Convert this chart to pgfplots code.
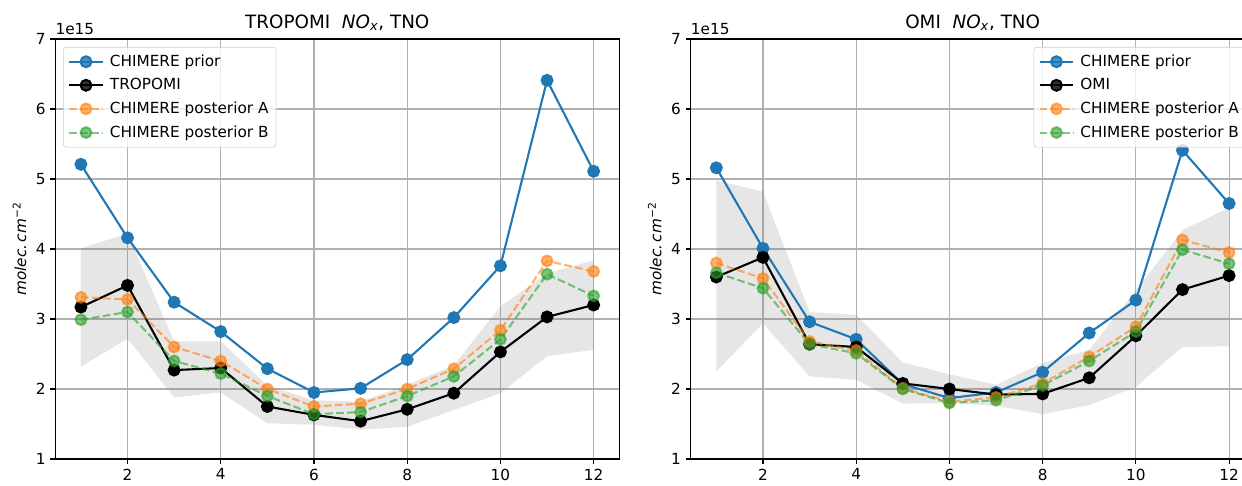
\documentclass[border=0pt]{standalone}
\usepackage{pgfplots}
\pgfplotsset{compat=1.18}
\usepackage{fontspec}
\setmainfont{DejaVu Sans}
\definecolor{tabblue}{HTML}{1F77B4}
\definecolor{taborange}{HTML}{FF7F0E}
\definecolor{tabgreen}{HTML}{2CA02C}
\definecolor{gridgray}{HTML}{B0B0B0}
\definecolor{legedge}{HTML}{CCCCCC}
\pgfplotsset{
  mystyle/.style={
    scale only axis, width=406.1pt, height=302.4pt,
    xmin=0.45, xmax=12.55, ymin=1, ymax=7,
    xtick={2,4,...,12}, ytick={1,...,7},
    grid=major, major grid style={gridgray, line width=0.8pt},
    tick align=outside, major tick length=3.5pt,
    tick style={black, line width=0.8pt},
    xtick pos=left, ytick pos=left,
    axis line style={line width=0.8pt},
    /pgf/number format/assume math mode=true,
    tick label style={font=\fontsize{11}{13}\selectfont},
    title style={font=\fontsize{13.2}{15}\selectfont, yshift=-3.5pt},
    ylabel={\itshape molec.\,cm\textsuperscript{\normalfont −2}},
    ylabel style={font=\fontsize{11}{13}\selectfont},
    legend cell align=left,
    legend style={font=\fontsize{11}{13}\selectfont, draw=legedge, rounded corners=2pt,
      fill=white, fill opacity=0.8, text opacity=1, draw opacity=1,
      row sep=3.2pt, column sep=2.5pt, inner xsep=3.5pt, inner ysep=3.5pt},
    legend image code/.code={\draw[mark repeat=2,mark phase=2] plot coordinates {(0pt,0pt)(12pt,0pt)(24pt,0pt)};},
  },
  band/.style={fill=gray, fill opacity=0.2, draw=none, forget plot},
  prior/.style={tabblue, line width=1.5pt, mark=*, mark size=3.9pt, mark options={solid, fill=tabblue}},
  obs/.style={black, line width=1.5pt, mark=*, mark size=3.9pt, mark options={solid, fill=black}},
  postA/.style={taborange, opacity=0.6, line width=1.5pt, dash pattern=on 5.55pt off 2.4pt, mark=*, mark size=3.9pt, mark options={solid, fill=taborange}},
  postB/.style={tabgreen, opacity=0.6, line width=1.5pt, dash pattern=on 5.55pt off 2.4pt, mark=*, mark size=3.9pt, mark options={solid, fill=tabgreen}},
}
\begin{document}
\begin{tikzpicture}
\begin{axis}[mystyle, name=left, at={(39.8pt,18.72pt)}, anchor=south west,
  title={TROPOMI\ \ \textit{NO}\textsubscript{\textit{x}}, TNO},
  legend style={at={(0.014,0.981)}, anchor=north west}]
\addplot[band] coordinates {
 (1,4.01) (2,4.22) (3,2.68) (4,2.68) (5,2.05) (6,1.84) (7,1.82) (8,2.06) (9,2.34) (10,3.18) (11,3.65) (12,3.84)
 (12,2.56) (11,2.47) (10,1.94) (9,1.70) (8,1.46) (7,1.42) (6,1.49) (5,1.51) (4,1.95) (3,1.88) (2,2.72) (1,2.32)};
\addplot[prior] coordinates {(1,5.21) (2,4.16) (3,3.24) (4,2.82) (5,2.29) (6,1.95) (7,2.01) (8,2.42) (9,3.02) (10,3.76) (11,6.41) (12,5.11)};
\addlegendentry{CHIMERE prior}
\addplot[obs] coordinates {(1,3.17) (2,3.48) (3,2.27) (4,2.30) (5,1.75) (6,1.63) (7,1.54) (8,1.71) (9,1.94) (10,2.53) (11,3.03) (12,3.20)};
\addlegendentry{TROPOMI}
\addplot[postA] coordinates {(1,3.31) (2,3.28) (3,2.60) (4,2.40) (5,2.00) (6,1.75) (7,1.79) (8,2.00) (9,2.29) (10,2.84) (11,3.83) (12,3.68)};
\addlegendentry{CHIMERE posterior A}
\addplot[postB] coordinates {(1,2.99) (2,3.10) (3,2.40) (4,2.22) (5,1.90) (6,1.64) (7,1.67) (8,1.90) (9,2.18) (10,2.71) (11,3.64) (12,3.33)};
\addlegendentry{CHIMERE posterior B}
\end{axis}
\node[anchor=south west, inner sep=0pt, font=\fontsize{11}{13}\selectfont, yshift=3pt] at (left.north west) {1e15};
\begin{axis}[mystyle, name=right, at={(497.3pt,18.72pt)}, anchor=south west,
  title={OMI\ \ \textit{NO}\textsubscript{\textit{x}}, TNO},
  legend style={at={(0.986,0.981)}, anchor=north east}]
\addplot[band] coordinates {
 (1,4.98) (2,4.82) (3,3.10) (4,3.06) (5,2.38) (6,2.21) (7,2.06) (8,2.37) (9,2.56) (10,3.41) (11,4.27) (12,4.59)
 (12,2.61) (11,2.60) (10,2.03) (9,1.77) (8,1.64) (7,1.76) (6,1.80) (5,1.79) (4,2.13) (3,2.18) (2,2.94) (1,2.25)};
\addplot[prior] coordinates {(1,5.16) (2,4.01) (3,2.96) (4,2.71) (5,2.07) (6,1.87) (7,1.95) (8,2.24) (9,2.80) (10,3.27) (11,5.41) (12,4.65)};
\addlegendentry{CHIMERE prior}
\addplot[obs] coordinates {(1,3.60) (2,3.88) (3,2.64) (4,2.60) (5,2.08) (6,2.00) (7,1.92) (8,1.93) (9,2.16) (10,2.76) (11,3.42) (12,3.62)};
\addlegendentry{OMI}
\addplot[postA] coordinates {(1,3.80) (2,3.58) (3,2.68) (4,2.55) (5,2.01) (6,1.82) (7,1.88) (8,2.08) (9,2.46) (10,2.89) (11,4.13) (12,3.95)};
\addlegendentry{CHIMERE posterior A}
\addplot[postB] coordinates {(1,3.66) (2,3.44) (3,2.64) (4,2.51) (5,2.00) (6,1.80) (7,1.84) (8,2.05) (9,2.40) (10,2.82) (11,3.99) (12,3.79)};
\addlegendentry{CHIMERE posterior B}
\end{axis}
\node[anchor=south west, inner sep=0pt, font=\fontsize{11}{13}\selectfont, yshift=3pt] at (right.north west) {1e15};
\pgfresetboundingbox
\path (0,0) rectangle (894.24pt,349.2pt);
\end{tikzpicture}
\end{document}
